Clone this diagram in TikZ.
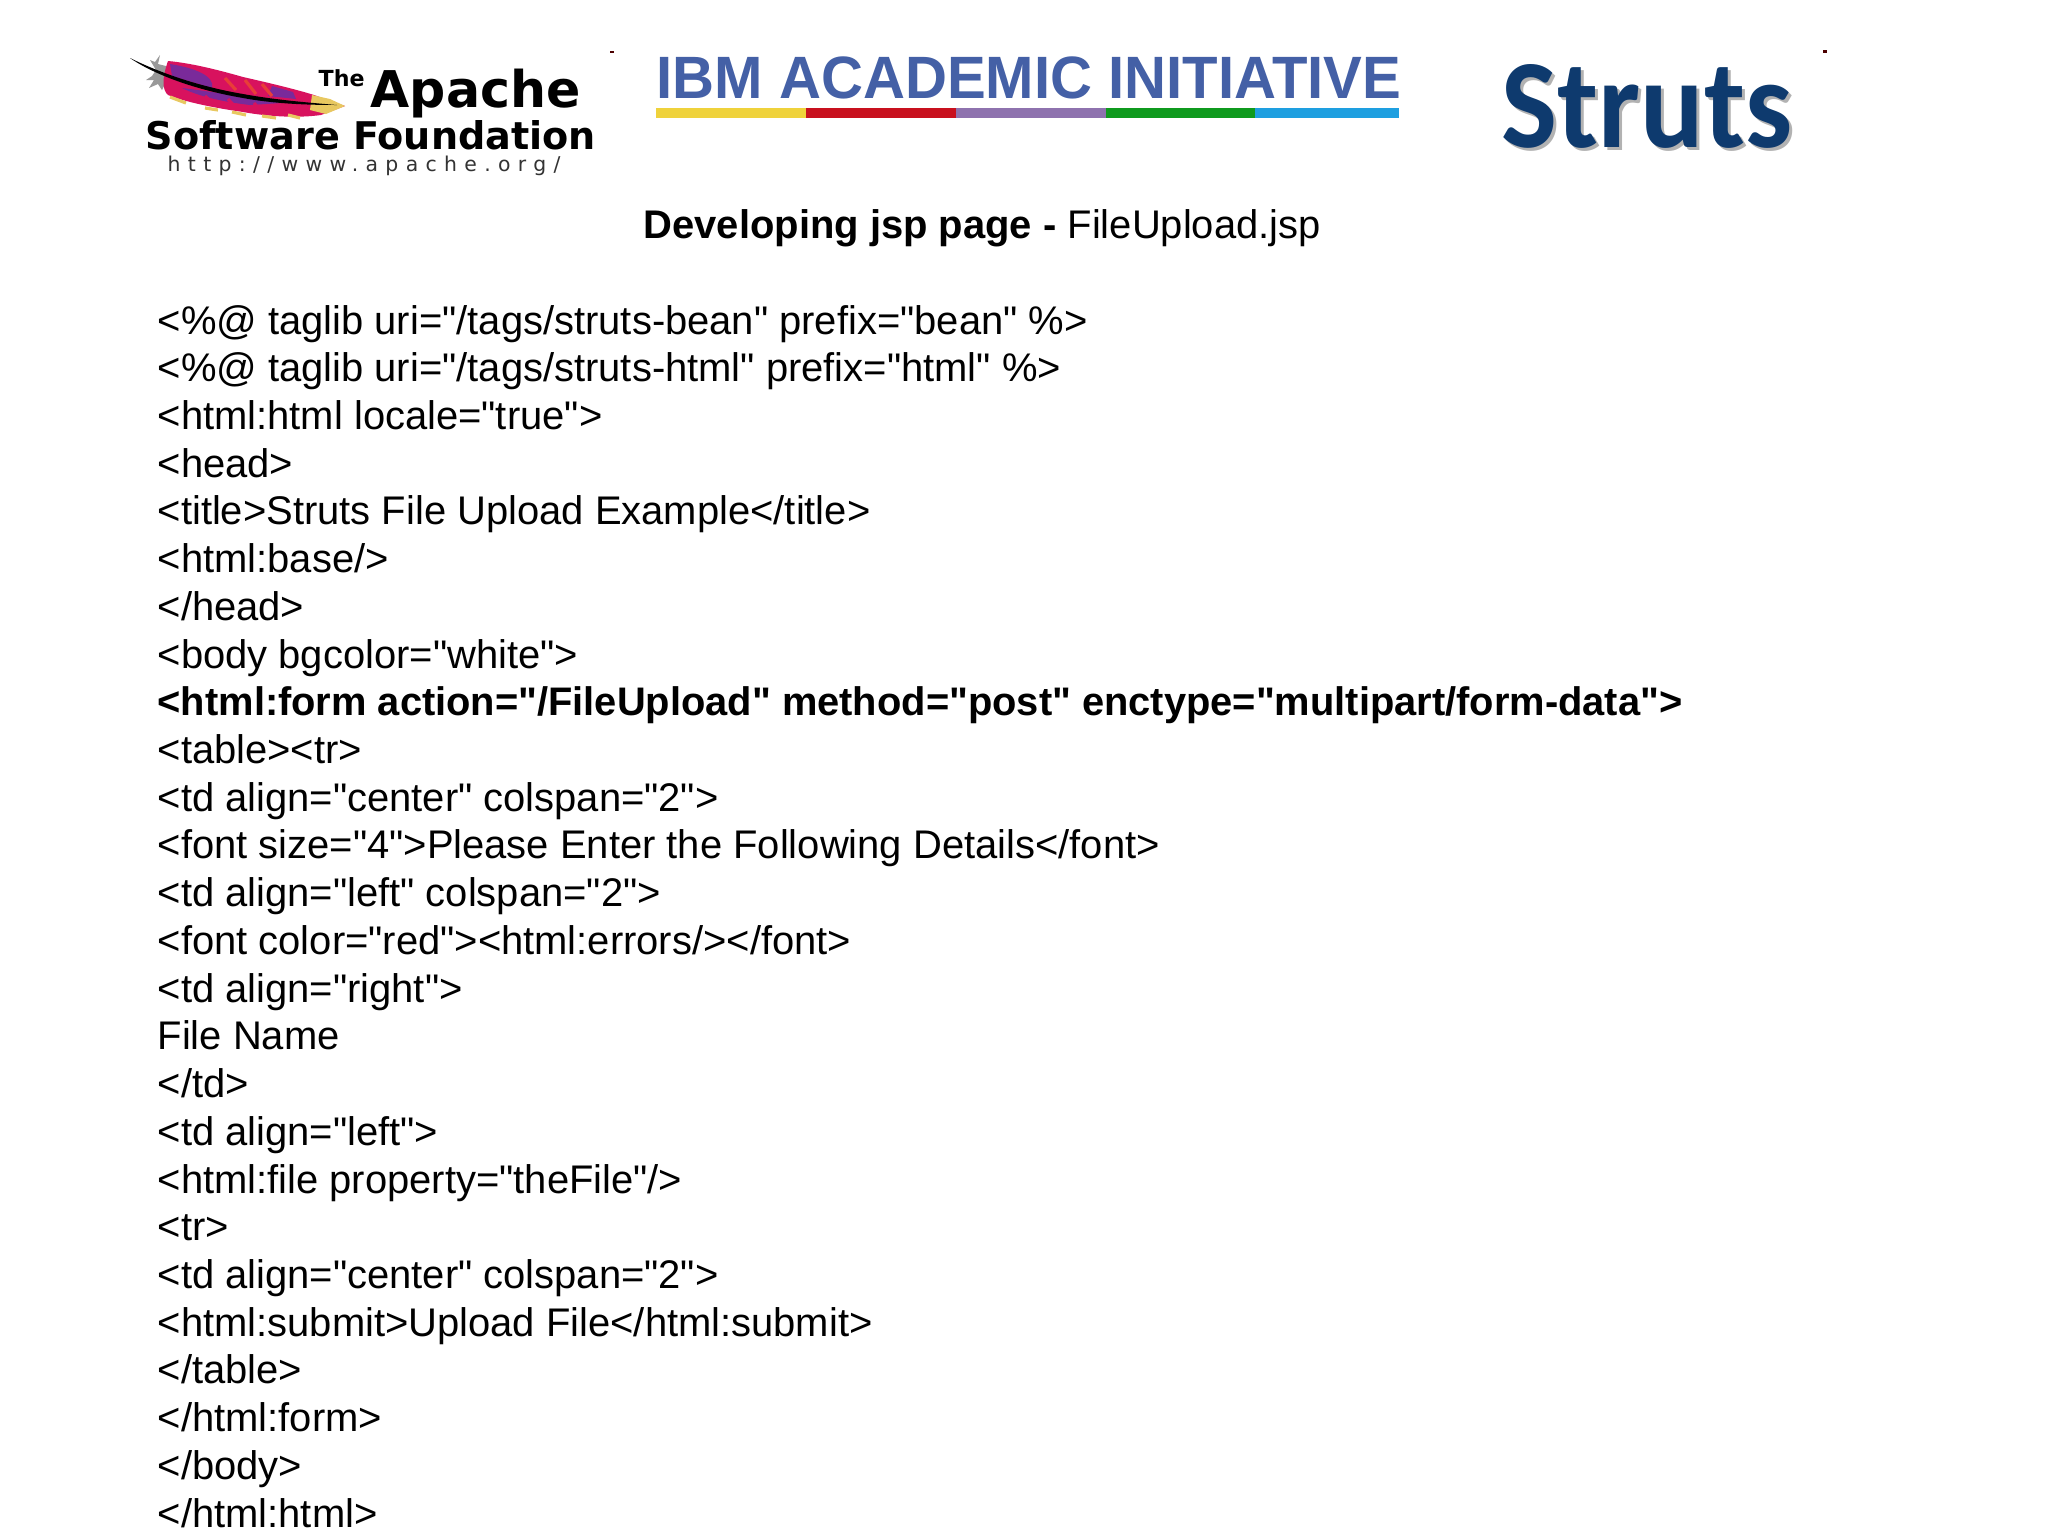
\documentclass[tikz,border=0pt]{standalone}
\usepackage{fontspec}
\newfontfamily\codefont{Liberation Sans}
\newfontfamily\apachefont{DejaVu Sans}
\newfontfamily\urlfont[LetterSpace=36]{DejaVu Sans}
\newfontfamily\strutsfont{Carlito}
\definecolor{strutsblue}{HTML}{0E3A6E}
\definecolor{ibmblue}{HTML}{4460A6}
\definecolor{featherred}{HTML}{D8125E}
\definecolor{featherpurple}{HTML}{7A2A9A}
\definecolor{feathergold}{HTML}{E8C860}
\definecolor{baryellow}{HTML}{EFD23B}
\definecolor{barred}{HTML}{C8101E}
\definecolor{barpurple}{HTML}{8E72AE}
\definecolor{bargreen}{HTML}{0F9A1E}
\definecolor{barblue}{HTML}{1E9FE0}
\tikzset{
  codeline/.style={anchor=base west, inner sep=0pt, font=\codefont\fontsize{11.36}{13}\selectfont},
  logotext/.style={anchor=base west, inner sep=0pt},
  speck/.style={fill=black!70!red},
  barb/.style={line width=0.9pt}
}
\begin{document}
\begin{tikzpicture}[x=0.01cm,y=-0.01cm]
\useasboundingbox (0,0) rectangle (2048,1536);

% feather
\fill[black!40] (166,66) -- (158,64) -- (160,55) -- (155,62) -- (150,60) -- (156,70) -- (152,76) -- (146,80) -- (154,80) -- (149,88) -- (158,84) -- (162,90) -- (167,80) -- cycle;
\fill[featherred] (168,61) .. controls (190,63) and (215,69) .. (243,77) .. controls (265,82) and (295,89) .. (314,95) -- (345,106) -- (321,115) .. controls (300,118) and (270,117) .. (243,112) .. controls (215,108) and (185,102) .. (168,95) .. controls (162,90) and (162,78) .. (168,61) -- cycle;
\fill[featherpurple] (170,64) .. controls (195,68) and (215,76) .. (212,88) -- (172,76) -- cycle;
\fill[featherpurple] (182,88) .. controls (215,92) and (250,98) .. (282,103) -- (250,105) .. controls (225,102) and (200,97) .. (182,88) -- cycle;
\fill[featherpurple] (272,86) -- (293,92) -- (296,99) -- (268,96) -- cycle;
\draw[featherred!60!orange, barb] (225,78) -- (236,90) (245,80) -- (256,94) (262,84) -- (272,96);
\draw[featherred, barb] (205,96) -- (214,104) (228,99) -- (236,108) (254,103) -- (262,112) (280,106) -- (288,115);
\fill[feathergold] (312,95) -- (330,99) -- (345,106) -- (326,114) -- (310,110) -- cycle;
\draw[feathergold, barb] (170,97) -- (186,103) (205,108) -- (218,110) (232,112) -- (246,115) (262,116) -- (276,118) (288,115) -- (300,118);
\fill[black] (130,58) .. controls (150,68) and (190,85) .. (243,94) .. controls (270,99) and (300,102) .. (337,105) .. controls (300,105) and (270,103) .. (243,98) .. controls (190,89) and (150,72) .. (130,58) -- cycle;

% apache text
\node[logotext, font=\apachefont\bfseries\fontsize{14.4}{16}\selectfont] (apache) at (370,107) {Apache};
\node[logotext, font=\apachefont\bfseries\fontsize{6.3}{7}\selectfont] (the) at (318,86) {The};
\node[logotext, font=\apachefont\bfseries\fontsize{10.85}{12}\selectfont] (foundation) at (145,149) {Software Foundation};
\node[logotext, text=black!80, font=\urlfont\fontsize{5.8}{7}\selectfont] (apacheurl) at (167,171) {http://www.apache.org/};

% ibm banner
\node[logotext, xscale=0.972, text=ibmblue, font=\codefont\bfseries\fontsize{17}{19}\selectfont] (ibm) at (656,98) {IBM ACADEMIC INITIATIVE};
\fill[baryellow] (656,108) rectangle (806,118);
\fill[barred] (806,108) rectangle (956,118);
\fill[barpurple] (956,108) rectangle (1106,118);
\fill[bargreen] (1106,108) rectangle (1255,118);
\fill[barblue] (1255,108) rectangle (1399,118);

% struts
\node[logotext, xscale=0.935, text=black!30, font=\strutsfont\bfseries\fontsize{36}{40}\selectfont] (strutsshadow) at (1504,150) {Struts};
\node[logotext, xscale=0.935, text=strutsblue, font=\strutsfont\bfseries\fontsize{36}{40}\selectfont] (struts) at (1501,147) {Struts};

\fill[speck] (610,51) rectangle (614,53);
\fill[speck] (1823,50) rectangle (1827,53);

\node[codeline] (heading) at (643,238) {\textbf{Developing jsp page -} FileUpload.jsp};

\node[codeline] (line1) at (157,334) {<\%@ taglib uri="/tags/struts-bean" prefix="bean" \%>};
\node[codeline] (line2) at (157,381.7) {<\%@ taglib uri="/tags/struts-html" prefix="html" \%>};
\node[codeline] (line3) at (157,429.4) {<html:html locale="true">};
\node[codeline] (line4) at (157,477.2) {<head>};
\node[codeline] (line5) at (157,524.9) {<title>Struts File Upload Example</title>};
\node[codeline] (line6) at (157,572.6) {<html:base/>};
\node[codeline] (line7) at (157,620.3) {</head>};
\node[codeline] (line8) at (157,668) {<body bgcolor="white">};
\node[codeline] (line9) at (157,715.8) {\fontsize{11.33}{13}\selectfont\textbf{<html:form action="/FileUpload" method="post" enctype="multipart/form-data">}};
\node[codeline] (line10) at (157,763.5) {<table><tr>};
\node[codeline] (line11) at (157,811.2) {<td align="center" colspan="2">};
\node[codeline] (line12) at (157,858.9) {<font size="4">Please Enter the Following Details</font>};
\node[codeline] (line13) at (157,906.6) {<td align="left" colspan="2">};
\node[codeline] (line14) at (157,954.4) {<font color="red"><html:errors/></font>};
\node[codeline] (line15) at (157,1002.1) {<td align="right">};
\node[codeline] (line16) at (157,1049.8) {File Name};
\node[codeline] (line17) at (157,1097.5) {</td>};
\node[codeline] (line18) at (157,1145.2) {<td align="left">};
\node[codeline] (line19) at (157,1193) {<html:file property="theFile"/>};
\node[codeline] (line20) at (157,1240.7) {<tr>};
\node[codeline] (line21) at (157,1288.4) {<td align="center" colspan="2">};
\node[codeline] (line22) at (157,1336.1) {<html:submit>Upload File</html:submit>};
\node[codeline] (line23) at (157,1383.8) {</table>};
\node[codeline] (line24) at (157,1431.6) {</html:form>};
\node[codeline] (line25) at (157,1479.3) {</body>};
\node[codeline] (line26) at (157,1527) {</html:html>};

\end{tikzpicture}
\end{document}
